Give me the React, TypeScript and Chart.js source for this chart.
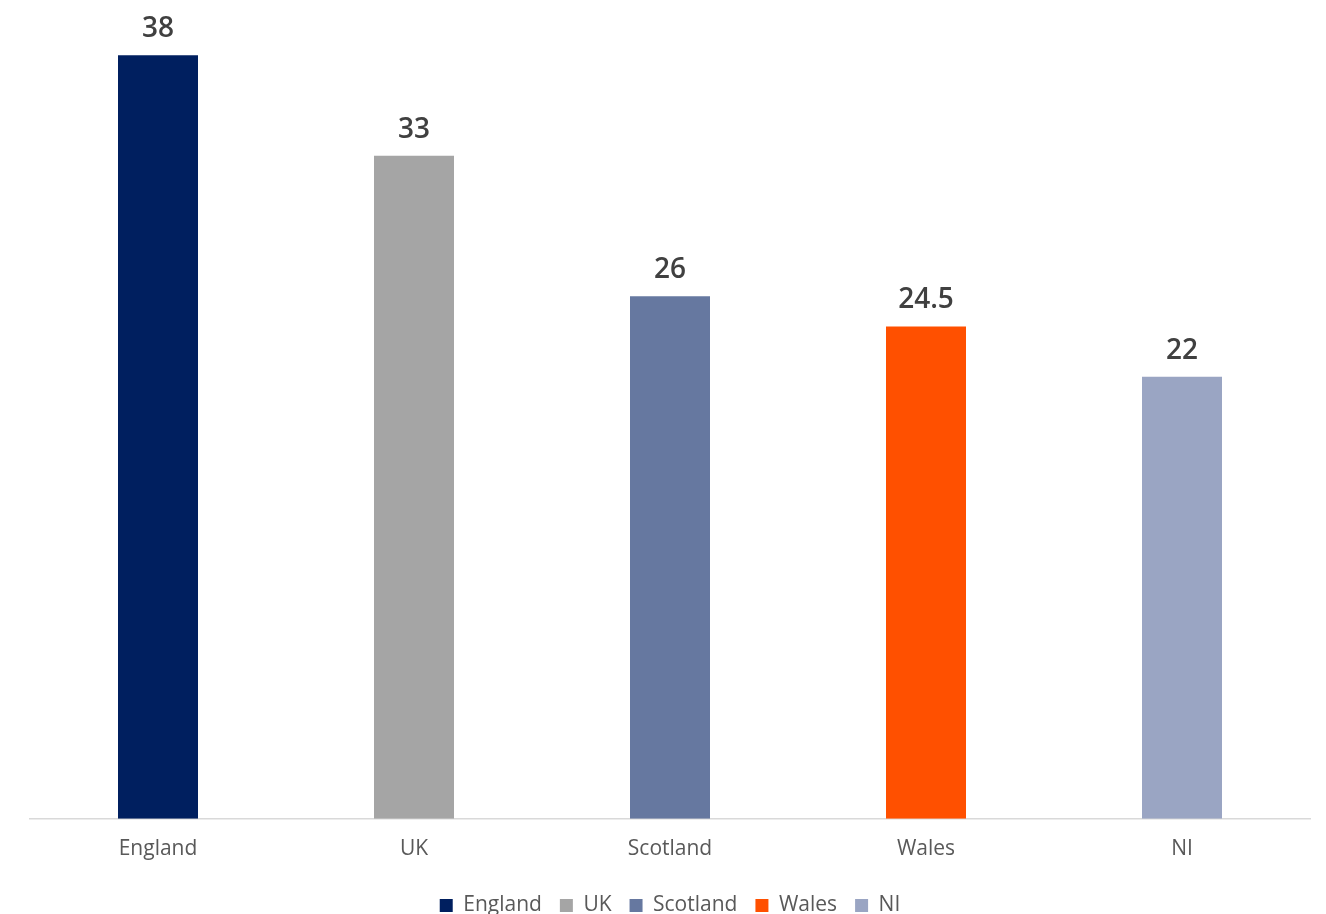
import React, { useEffect, useRef } from "react";
import { Chart, registerables } from "chart.js";

Chart.register(...registerables);

const categories = ["England", "UK", "Scotland", "Wales", "NI"];
const values = [38, 33, 26, 24.5, 22];
const valueLabels = ["38", "33", "26", "24.5", "22"];
const colors = ["#001F5F", "#A5A5A5", "#6678A0", "#FF5000", "#9AA5C3"];

const FONT = "'Open Sans', 'Noto Sans', sans-serif";

const valueLabelPlugin = {
  id: "valueLabels",
  afterDatasetsDraw(chart: any) {
    const ctx = chart.ctx;
    const meta = chart.getDatasetMeta(0);
    ctx.save();
    ctx.font = `600 28px ${FONT}`;
    ctx.fillStyle = "#404040";
    ctx.textAlign = "center";
    ctx.textBaseline = "alphabetic";
    meta.data.forEach((bar: any, i: number) => {
      ctx.fillText(valueLabels[i], bar.x, bar.y - 18);
    });
    ctx.restore();
  },
};

export default function App() {
  const ref = useRef<HTMLCanvasElement | null>(null);
  useEffect(() => {
    if (!ref.current) return;
    const chart = new Chart(ref.current, {
      type: "bar",
      data: {
        labels: categories,
        datasets: [
          {
            label: "Values",
            data: values,
            backgroundColor: colors,
            borderWidth: 0,
            categoryPercentage: 1,
            barPercentage: 0.3125,
          },
        ],
      },
      options: {
        animation: false,
        responsive: false,
        maintainAspectRatio: false,
        layout: { padding: { left: 30, right: 16, top: 15, bottom: -12 } },
        scales: {
          x: {
            grid: { display: false },
            border: { display: true, color: "#D9D9D9", width: 1.5 },
            ticks: {
              color: "#595959",
              font: { family: FONT, size: 21 },
              padding: 10,
            },
            afterFit: (scale: any) => {
              scale.height += 5;
            },
          },
          y: {
            display: false,
            min: 0,
            max: 40,
          },
        },
        plugins: {
          tooltip: { enabled: false },
          legend: {
            position: "bottom",
            labels: {
              color: "#595959",
              font: { family: FONT, size: 21 },
              boxWidth: 13,
              boxHeight: 13,
              padding: 18,
              generateLabels: () =>
                categories.map((c, i) => ({
                  text: c,
                  fillStyle: colors[i],
                  strokeStyle: colors[i],
                  lineWidth: 0,
                  hidden: false,
                  index: i,
                  datasetIndex: 0,
                  fontColor: "#595959",
                })),
            },
          },
        },
      },
      plugins: [valueLabelPlugin],
    });
    return () => chart.destroy();
  }, []);
  return (
    <div style={{ position: "fixed", left: 0, top: 0, width: 1326, height: 914, background: "#fff" }}>
      <canvas ref={ref} width={1326} height={914} style={{ width: 1326, height: 914 }} />
    </div>
  );
}
